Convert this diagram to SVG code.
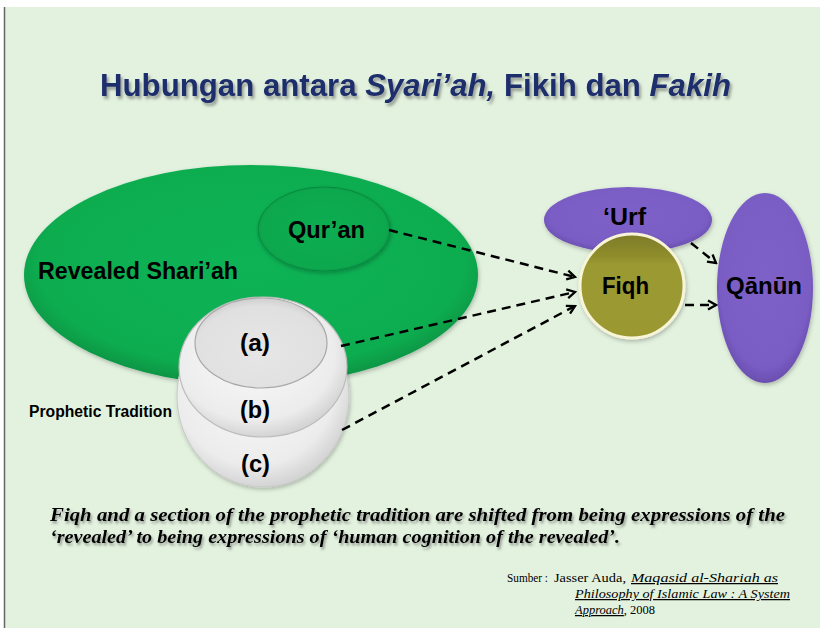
<svg xmlns="http://www.w3.org/2000/svg" width="820" height="628" viewBox="0 0 820 628">
<defs>
<style>
.t{font-family:"Liberation Sans",Arial,sans-serif;font-weight:bold;fill:#000}
.s{font-family:"Liberation Serif","Times New Roman",serif;fill:#000}
.con{fill:none;stroke:#000;stroke-width:2.5;stroke-dasharray:9,6}
</style>
<radialGradient id="gGreen" cx="0.5" cy="0.45" r="0.55">
<stop offset="0" stop-color="#0cb355"/><stop offset="0.85" stop-color="#0aad50"/><stop offset="1" stop-color="#079443"/>
</radialGradient>
<radialGradient id="gQ" cx="0.5" cy="0.5" r="0.55">
<stop offset="0" stop-color="#0aad52"/><stop offset="0.85" stop-color="#0aa84e"/><stop offset="1" stop-color="#098f43"/>
</radialGradient>
<radialGradient id="gPurple" cx="0.5" cy="0.45" r="0.55">
<stop offset="0" stop-color="#7d60c8"/><stop offset="0.85" stop-color="#7a5dc4"/><stop offset="1" stop-color="#6a4fb0"/>
</radialGradient>
<linearGradient id="gFiqh" x1="0" y1="0" x2="0" y2="1">
<stop offset="0" stop-color="#7e7a28"/><stop offset="0.22" stop-color="#8f8e2c"/><stop offset="0.3" stop-color="#9b9a33"/><stop offset="1" stop-color="#9a982f"/>
</linearGradient>
<radialGradient id="gWhite" cx="0.45" cy="0.4" r="0.6">
<stop offset="0" stop-color="#fafafa"/><stop offset="0.8" stop-color="#ececec"/><stop offset="1" stop-color="#d4d4d4"/>
</radialGradient>
<radialGradient id="gWhiteA" cx="0.5" cy="0.6" r="0.6">
<stop offset="0" stop-color="#e6e6e6"/><stop offset="0.85" stop-color="#e0e0e0"/><stop offset="1" stop-color="#cfcfcf"/>
</radialGradient>
<filter id="sh" x="-5%" y="-20%" width="110%" height="150%">
<feDropShadow dx="2" dy="3" stdDeviation="1.5" flood-color="#555" flood-opacity="0.55"/>
</filter>
<filter id="shs" x="-5%" y="-20%" width="110%" height="150%">
<feDropShadow dx="1.5" dy="2.5" stdDeviation="1.2" flood-color="#444" flood-opacity="0.5"/>
</filter>
<filter id="soft" x="-10%" y="-10%" width="120%" height="130%">
<feDropShadow dx="1" dy="2" stdDeviation="2" flood-color="#000" flood-opacity="0.25"/>
</filter>
<marker id="ah" viewBox="0 0 12 12" refX="10" refY="6" markerWidth="12" markerHeight="12" markerUnits="userSpaceOnUse" orient="auto">
<path d="M2,1.5 L10,6 L2,10.5" fill="none" stroke="#000" stroke-width="2.3"/>
</marker>
</defs>
<rect x="0" y="0" width="820" height="628" fill="#ffffff"/>
<rect x="4" y="7" width="816" height="621" fill="#e3f2df"/>
<line x1="4.5" y1="7" x2="4.5" y2="628" stroke="#666" stroke-width="1.5"/>

<text x="100" y="96" class="t" font-size="32" style="fill:#1c2e6c" filter="url(#sh)" textLength="631" lengthAdjust="spacingAndGlyphs">Hubungan antara <tspan font-style="italic">Syari’ah,</tspan> Fikih dan <tspan font-style="italic">Fakih</tspan></text>

<g id="revealed">
<ellipse cx="251" cy="275" rx="227" ry="110" fill="url(#gGreen)" filter="url(#soft)"/>
<text x="38" y="279" class="t" font-size="23" textLength="200" lengthAdjust="spacingAndGlyphs">Revealed Shari’ah</text>
</g>
<g id="quran">
<ellipse cx="324" cy="229" rx="66" ry="42" fill="url(#gQ)" stroke="#078a3f" stroke-width="1" filter="url(#soft)"/>
<text x="288" y="238" class="t" font-size="23" textLength="77" lengthAdjust="spacingAndGlyphs">Qur’an</text>
</g>
<g id="prophetic">
<ellipse cx="263" cy="396" rx="86" ry="91" fill="url(#gWhite)" stroke="#c8c8c8" stroke-width="1" filter="url(#soft)"/>
<ellipse cx="263" cy="367" rx="84" ry="70" fill="url(#gWhite)" stroke="#bdbdbd" stroke-width="1.2"/>
<ellipse cx="261" cy="343" rx="66" ry="45" fill="url(#gWhiteA)" stroke="#a8a8a8" stroke-width="1.2"/>
<text x="240" y="351" class="t" font-size="23" textLength="30" lengthAdjust="spacingAndGlyphs">(a)</text>
<text x="240" y="418" class="t" font-size="23" textLength="30" lengthAdjust="spacingAndGlyphs">(b)</text>
<text x="241" y="472" class="t" font-size="23" textLength="29" lengthAdjust="spacingAndGlyphs">(c)</text>
<text x="29" y="417" class="t" font-size="16" textLength="143" lengthAdjust="spacingAndGlyphs">Prophetic Tradition</text>
</g>
<g id="urf">
<ellipse cx="628" cy="220" rx="84" ry="33" fill="url(#gPurple)" filter="url(#soft)"/>
<text x="603" y="225" class="t" font-size="24" textLength="43" lengthAdjust="spacingAndGlyphs">‘Urf</text>
</g>
<g id="fiqh">
<circle cx="632" cy="286" r="52" fill="url(#gFiqh)" stroke="#f7f4d8" stroke-width="3" filter="url(#soft)"/>
<text x="602" y="294" class="t" font-size="24" textLength="47" lengthAdjust="spacingAndGlyphs">Fiqh</text>
</g>
<g id="qanun">
<ellipse cx="765" cy="288" rx="48" ry="95" fill="url(#gPurple)" filter="url(#soft)"/>
<text x="726" y="294" class="t" font-size="24" textLength="76" lengthAdjust="spacingAndGlyphs">Qānūn</text>
</g>

<g id="connectors">
<line class="con" x1="389" y1="230" x2="575" y2="277" marker-end="url(#ah)"/>
<line class="con" x1="341" y1="346" x2="575" y2="292" marker-end="url(#ah)"/>
<line class="con" x1="342" y1="430" x2="575" y2="306" marker-end="url(#ah)"/>
<line class="con" x1="691" y1="243" x2="716" y2="263" marker-end="url(#ah)" stroke-dasharray="7,5"/>
<line class="con" x1="685" y1="305" x2="716" y2="305" marker-end="url(#ah)" stroke-dasharray="8,5"/>
</g>

<g id="caption" filter="url(#shs)">
<text x="50" y="521" class="s" font-size="18" font-weight="bold" font-style="italic" textLength="735" lengthAdjust="spacingAndGlyphs">Fiqh and a section of the prophetic tradition are shifted from being expressions of the</text>
<text x="50" y="543" class="s" font-size="18" font-weight="bold" font-style="italic" textLength="570" lengthAdjust="spacingAndGlyphs">‘revealed’ to being expressions of ‘human cognition of the revealed’.</text>
</g>
<g id="source">
<text x="507" y="582" class="s" font-size="12.5" textLength="41" lengthAdjust="spacingAndGlyphs">Sumber :</text>
<text x="554" y="582" class="s" font-size="12.5" textLength="72" lengthAdjust="spacingAndGlyphs">Jasser Auda,</text>
<text x="631" y="582" class="s" font-size="12.5" font-style="italic" text-decoration="underline" textLength="147" lengthAdjust="spacingAndGlyphs">Maqasid al-Shariah as</text>
<text x="575" y="598" class="s" font-size="12.5" font-style="italic" text-decoration="underline" textLength="215" lengthAdjust="spacingAndGlyphs">Philosophy of Islamic Law : A System</text>
<text x="575" y="614" class="s" font-size="12.5"><tspan font-style="italic" text-decoration="underline">Approach</tspan>, 2008</text>
</g>
</svg>
